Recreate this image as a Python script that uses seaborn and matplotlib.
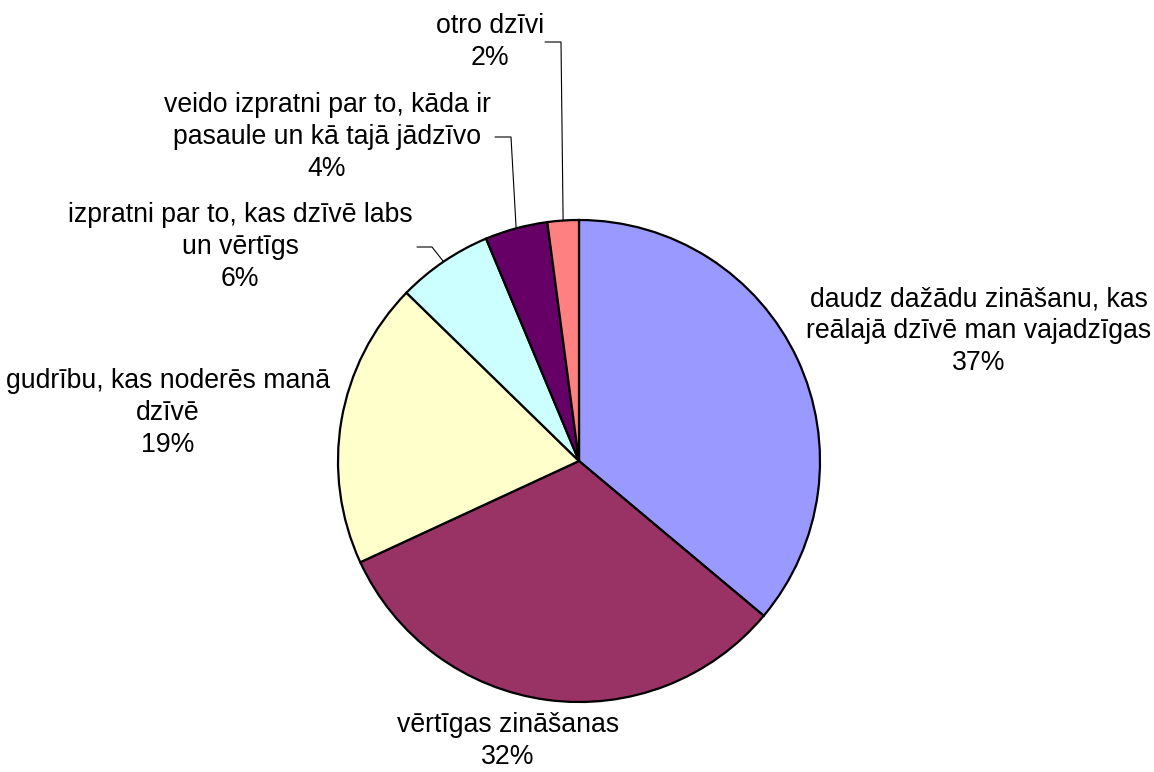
import numpy as np
import matplotlib
matplotlib.use("Agg")
import matplotlib.pyplot as plt
import seaborn as sns

labels = ['daudz dažādu zināšanu, kas\nreālajā dzīvē man vajadzīgas',
          'vērtīgas zināšanas',
          'gudrību, kas noderēs manā\ndzīvē',
          'izpratni par to, kas dzīvē labs\nun vērtīgs',
          'veido izpratni par to, kāda ir\npasaule un kā tajā jādzīvo',
          'otro dzīvi']
# slice sizes as drawn, and the percentage labels as printed
values = [36.1, 32.0, 19.2, 6.4, 4.2, 2.1]
pct_labels = ['37%', '32%', '19%', '6%', '4%', '2%']
colors = ['#9999FF', '#993366', '#FFFFCC', '#CCFFFF', '#660066', '#FF8080']

# label block centres (pixels, top-left origin)
label_pos = [(979, 331), (508, 741), (168, 413), (240, 247), (327, 137), (490, 42)]
# leader start / elbow points for the small slices (None = no leader)
leader_start = [None, None, None, (417, 247), (495, 137), (545, 42)]
leader_elbow = [None, None, None, (432, 247), (511, 137), (561, 42)]

sns.set_style("white")
plt.rcParams['font.family'] = ['Liberation Sans', 'DejaVu Sans']

W, H = 1154, 772
fig = plt.figure(figsize=(W / 100, H / 100), dpi=100)
ax = fig.add_axes([0, 0, 1, 1])

cx, cy, r = 579, H - 461, 241
ax.pie(values, colors=colors, startangle=90, counterclock=False,
       center=(cx, cy), radius=r,
       wedgeprops=dict(edgecolor='black', linewidth=1.6))
ax.set_xlim(0, W)
ax.set_ylim(0, H)
ax.axis('off')

total = sum(values)
cum = np.cumsum([0] + values)
for i, lab in enumerate(labels):
    x, y = label_pos[i]
    ax.text(x, H - y, f"{lab}\n{pct_labels[i]}", ha='center', va='center',
            fontsize=19.2, linespacing=1.28, color='black')
    if leader_start[i] is not None:
        mid = 90 - (cum[i] + values[i] / 2) / total * 360
        ex = cx + r * np.cos(np.radians(mid))
        ey = cy + r * np.sin(np.radians(mid))
        sx, sy = leader_start[i]
        bx, by = leader_elbow[i]
        ax.plot([sx, bx, ex], [H - sy, H - by, ey], color='black', lw=0.8)

fig.savefig('out.png', dpi=100)
